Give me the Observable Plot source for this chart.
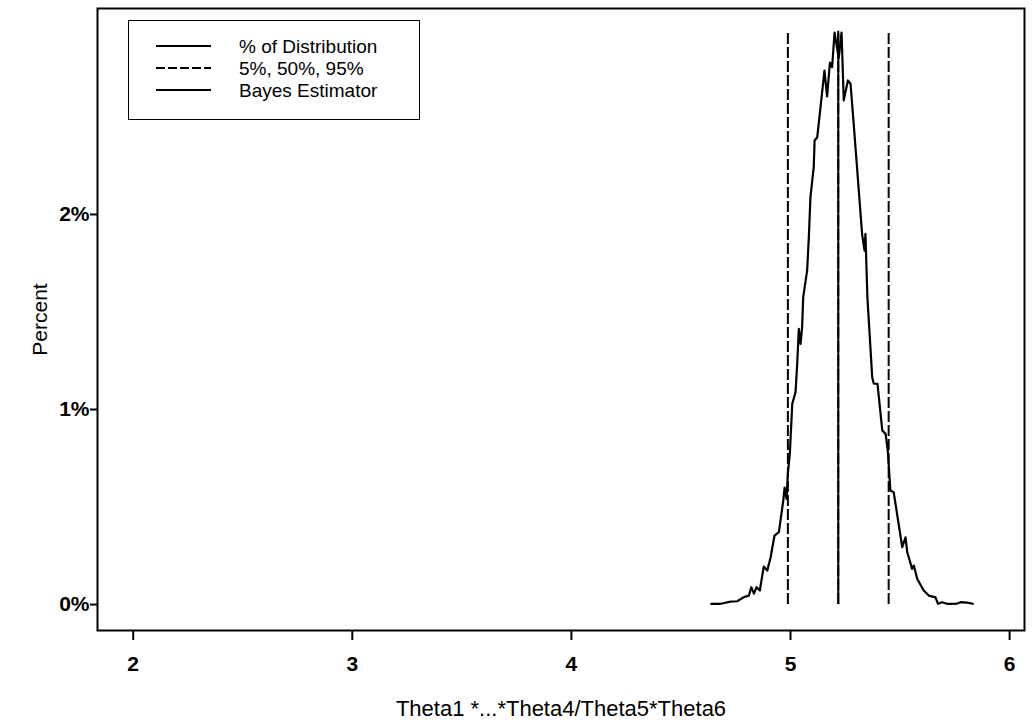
<!DOCTYPE html>
<html><head><meta charset="utf-8">
<script src="https://cdn.jsdelivr.net/npm/d3@7"></script>
<script src="https://cdn.jsdelivr.net/npm/@observablehq/plot@0.6"></script>
<style>
body{margin:0;background:#fff;font-family:"Liberation Sans",Arial,sans-serif;}
#wrap{position:relative;width:1034px;height:720px;}
#legend{position:absolute;left:128px;top:20px;width:292px;height:100px;border:1.5px solid #000;box-sizing:border-box;background:#fff;}
#legend .row{position:absolute;left:0;height:22px;display:flex;align-items:center;font-size:19px;line-height:1;color:#000;white-space:nowrap;}
#legend svg{margin-left:27px;margin-right:28px;}
</style></head><body><div id="wrap"></div>
<script>
// Distribution of Theta1*...*Theta4/Theta5*Theta6 (percent of draws)
const thetaValues = [4.638,4.681,4.726,4.757,4.787,4.810,4.821,4.833,4.845,4.860,4.878,4.894,4.909,4.927,4.947,4.967,4.973,4.982,4.988,4.997,5.008,5.023,5.031,5.038,5.046,5.053,5.058,5.076,5.084,5.091,5.106,5.110,5.122,5.137,5.155,5.167,5.180,5.190,5.201,5.213,5.220,5.233,5.243,5.262,5.274,5.289,5.327,5.338,5.342,5.351,5.373,5.380,5.397,5.419,5.434,5.444,5.456,5.471,5.510,5.525,5.533,5.555,5.563,5.578,5.608,5.631,5.662,5.673,5.692,5.715,5.730,5.761,5.776,5.806,5.832];
const percentValues = [0.004,0.004,0.015,0.017,0.038,0.046,0.089,0.056,0.089,0.072,0.195,0.174,0.241,0.354,0.371,0.533,0.600,0.542,0.672,0.774,1.029,1.089,1.243,1.414,1.337,1.422,1.576,1.713,1.892,2.089,2.243,2.379,2.396,2.550,2.738,2.605,2.779,2.755,2.933,2.851,2.800,2.933,2.585,2.687,2.670,2.456,1.897,1.815,1.901,1.574,1.164,1.133,1.132,0.892,0.875,0.790,0.585,0.576,0.294,0.345,0.268,0.183,0.200,0.132,0.072,0.046,0.037,0.004,0.012,0.004,0.004,0.005,0.012,0.010,0.004];
const quantileValues = [4.988, 5.218, 5.448]; // 5%, 50%, 95%
const bayesEstimator = [5.218];
const lineTop = 2.94;
const xTicks = [2, 3, 4, 5, 6];
const yTicks = [0, 1, 2];
const legendLabels = ["% of Distribution", "5%, 50%, 95%", "Bayes Estimator"];
const xLabel = "Theta1 *...*Theta4/Theta5*Theta6";
const yLabel = "Percent";

const data = thetaValues.map((x, i) => ({x, y: percentValues[i]}));

const chart = Plot.plot({
  width: 1034,
  height: 720,
  marginLeft: 97,
  marginRight: 10,
  marginTop: 8,
  marginBottom: 90,
  style: {fontFamily: "'Liberation Sans', Arial, sans-serif", fontSize: "21px", color: "#000", background: "#fff"},
  x: {domain: [1.837, 6.068]},
  y: {domain: [-0.133, 3.056]},
  marks: [
    Plot.frame({stroke: "#000", strokeWidth: 2}),
    Plot.ruleX(quantileValues, {y1: 0, y2: lineTop, stroke: "#000", strokeWidth: 2, strokeDasharray: "11,3"}),
    Plot.ruleX(bayesEstimator, {y1: 0, y2: lineTop, stroke: "#000", strokeWidth: 2}),
    Plot.line(data, {x: "x", y: "y", stroke: "#000", strokeWidth: 2.2, strokeLinejoin: "round"}),
    Plot.axisX({ticks: xTicks, tickSize: 10, tickPadding: 16, tickFormat: d => String(d), strokeWidth: 2,
      fontSize: 21, fontWeight: "bold", label: null}),
    Plot.axisX({ticks: [], label: xLabel, labelAnchor: "center", labelArrow: "none", labelOffset: 85, fontSize: 22}),
    Plot.axisY({ticks: yTicks, tickSize: 7, tickPadding: 1, tickFormat: d => d + "%", strokeWidth: 2,
      fontSize: 21, fontWeight: "bold", label: null}),
    Plot.axisY({ticks: [], label: yLabel, labelAnchor: "center", labelArrow: "none", labelOffset: 65, fontSize: 21})
  ]
});
const wrap = document.getElementById("wrap");
wrap.appendChild(chart);

const legend = document.createElement("div");
legend.id = "legend";
const dashes = [null, "9,3", null];
legendLabels.forEach((lab, i) => {
  const row = document.createElement("div");
  row.className = "row";
  row.style.top = (14 + i * 22) + "px";
  const svg = d3.create("svg").attr("width", 55).attr("height", 4);
  svg.append("line").attr("x1", 0).attr("x2", 55).attr("y1", 2).attr("y2", 2)
    .attr("stroke", "#000").attr("stroke-width", 2)
    .attr("stroke-dasharray", dashes[i]);
  row.appendChild(svg.node());
  const span = document.createElement("span");
  span.textContent = lab;
  row.appendChild(span);
  legend.appendChild(row);
});
wrap.appendChild(legend);
</script>
</body></html>
